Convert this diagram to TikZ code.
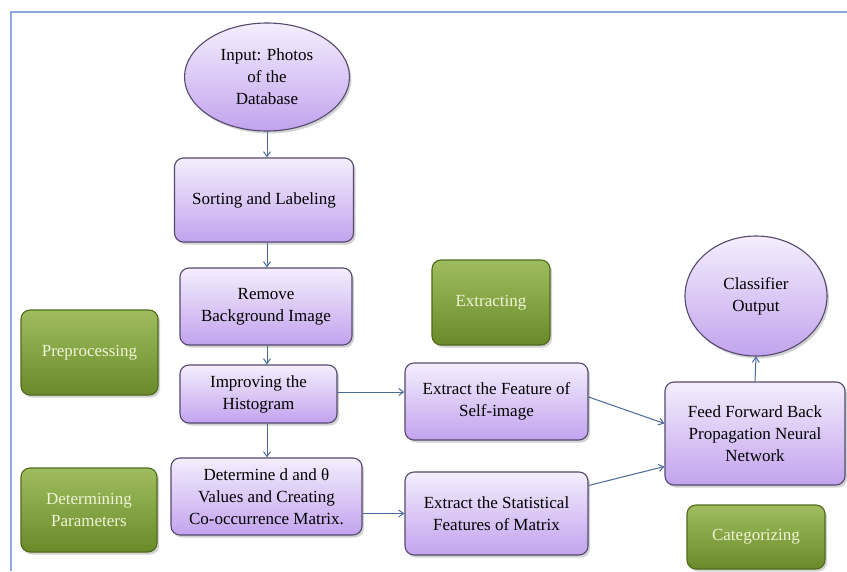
\documentclass[tikz,border=0pt]{standalone}
\usepackage{fontspec}
\setmainfont{Liberation Serif}
\usetikzlibrary{shapes.geometric,shadows,calc,arrows.meta}
\definecolor{frameblue}{HTML}{8EA9DB}
\definecolor{purtop}{HTML}{F4EEFD}
\definecolor{purbot}{HTML}{C2A3EE}
\definecolor{purdraw}{HTML}{55496F}
\definecolor{grntop}{HTML}{9FBD5E}
\definecolor{grnbot}{HTML}{6A8A2A}
\definecolor{grndraw}{HTML}{4E6B1C}
\definecolor{grntext}{HTML}{EEF4D6}
\definecolor{arrowc}{HTML}{4A6A9E}
\tikzset{
  base/.style={align=center, font=\fontsize{17}{22}\selectfont, inner sep=2pt,
    drop shadow={opacity=0.35, shadow xshift=2pt, shadow yshift=-2.5pt}},
  purbox/.style={base, rectangle, rounded corners=9pt, draw=purdraw, line width=1.1pt,
    top color=purtop, bottom color=purbot, text=black},
  purell/.style={base, ellipse, draw=purdraw, line width=1.1pt,
    top color=purtop, bottom color=purbot, text=black, inner sep=0pt},
  grnbox/.style={base, rectangle, rounded corners=9pt, draw=grndraw, line width=1.1pt,
    top color=grntop, bottom color=grnbot, text=grntext},
  conn/.style={draw=arrowc, line width=1pt, -{Straight Barb[length=5pt,width=7pt]}}
}
\begin{document}
\begin{tikzpicture}[x=1pt,y=-1pt]
\useasboundingbox (0,0) rectangle (847,571);
\fill[white] (0,0) rectangle (847,571);
\draw[frameblue, line width=1.5pt] (847,12) -- (11,12) -- (11,571);

% left column
\node[purell, minimum width=165pt, minimum height=108pt] (inp) at (267,77) {Input: Photos\\of the\\Database};
\node[purbox, minimum width=179pt, minimum height=84pt] (sort) at (264,200) {Sorting and Labeling};
\node[purbox, minimum width=172pt, minimum height=77pt] (remove) at (266,306.5) {Remove\\Background Image};
\node[purbox, minimum width=157pt, minimum height=58pt] (improve) at (258.5,394) {Improving the\\Histogram};
\node[purbox, minimum width=191pt, minimum height=77pt] (determ) at (266.5,496.5) {Determine d and θ\\Values and Creating\\Co-occurrence Matrix.};

% green labels
\node[grnbox, minimum width=137pt, minimum height=85pt] (pre) at (89.5,352.5) {Preprocessing};
\node[grnbox, minimum width=136pt, minimum height=84pt] (detpar) at (89,510) {Determining\\Parameters};
\node[grnbox, minimum width=118pt, minimum height=85pt] (extr) at (491,302.5) {Extracting};
\node[grnbox, minimum width=138pt, minimum height=64pt] (cat) at (756,537) {Categorizing};

% middle column
\node[purbox, minimum width=183pt, minimum height=77pt] (self) at (496.5,401.5) {Extract the Feature of\\Self-image};
\node[purbox, minimum width=183pt, minimum height=83pt] (stat) at (496.5,513.5) {Extract the Statistical\\Features of Matrix};

% right column
\node[purbox, minimum width=180pt, minimum height=103pt] (ffbp) at (755,433.5) {Feed Forward Back\\Propagation Neural\\Network};
\node[purell, minimum width=142pt, minimum height=120pt] (cls) at (756,296) {Classifier\\Output};

% connectors
\draw[conn] (inp.south -| 267,0) -- (sort.north -| 267,0);
\draw[conn] (sort.south -| 267,0) -- (remove.north -| 267,0);
\draw[conn] (remove.south -| 267,0) -- (improve.north -| 267,0);
\draw[conn] (improve.south -| 267,0) -- (determ.north -| 267,0);
\draw[conn] ([yshift=2pt]improve.east) -- ([yshift=2pt]improve.east -| self.west);
\draw[conn] (stat.west -| determ.east) -- (stat.west);
\draw[conn] ([yshift=4.5pt]self.east) -- ([yshift=10pt]ffbp.west);
\draw[conn] ([yshift=28pt]stat.east) -- ([yshift=-33pt]ffbp.west);
\draw[conn] (ffbp.north) -- (cls.south);
\end{tikzpicture}
\end{document}
